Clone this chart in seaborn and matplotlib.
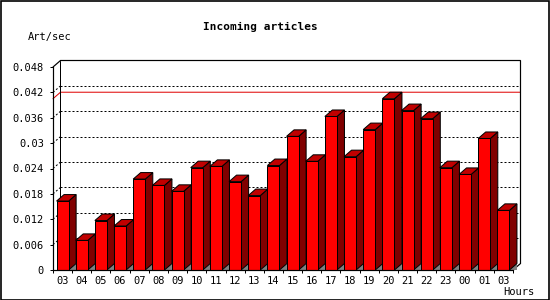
import numpy as np
import pandas as pd
import matplotlib
matplotlib.use("Agg")
import matplotlib.pyplot as plt
from matplotlib.patches import Polygon, Rectangle
import seaborn as sns

# ---- data ----
hours = ["03", "04", "05", "06", "07", "08", "09", "10", "11", "12", "13", "14",
         "15", "16", "17", "18", "19", "20", "21", "22", "23", "00", "01", "03"]
art_per_sec = [0.0163, 0.0070, 0.0117, 0.0104, 0.0215, 0.0200, 0.0186, 0.0242,
               0.0245, 0.0209, 0.0176, 0.0247, 0.0316, 0.0257, 0.0363, 0.0268,
               0.0332, 0.0405, 0.0377, 0.0358, 0.0242, 0.0226, 0.0311, 0.0141]
y_ticks = [0, 0.006, 0.012, 0.018, 0.024, 0.030, 0.036, 0.042, 0.048]
y_tick_labels = ["0", "0.006", "0.012", "0.018", "0.024", "0.03", "0.036", "0.042", "0.048"]
title = "Incoming articles"
y_label = "Art/sec"
x_label = "Hours"

sns.set_style("white")
plt.rcParams["font.family"] = ["DejaVu Sans Mono", "DejaVu Sans"]
plt.rcParams["text.color"] = "black"
plt.rcParams["xtick.color"] = "black"
plt.rcParams["ytick.color"] = "black"

W, H = 550, 300
fig = plt.figure(figsize=(W / 100, H / 100), dpi=100)
fig.patch.set_facecolor("white")
# axes = front plane of the 3D box
ax_l, ax_r, ax_b, ax_t = 53, 513, 270, 67
ax = fig.add_axes([ax_l / W, (H - ax_b) / H, (ax_r - ax_l) / W, (ax_b - ax_t) / H])
ax.set_facecolor("none")

df = pd.DataFrame({"pos": np.arange(len(hours)), "val": art_per_sec})
LW = 0.72  # 1 px
sns.barplot(data=df, x="pos", y="val", color="#ff0000", saturation=1,
            width=0.63, edgecolor="black", linewidth=LW, ax=ax, zorder=4)

n = len(hours)
ymax = y_ticks[-1]
ax.set_xlim(-0.5, n - 0.5)
ax.set_ylim(0, ymax)

# depth offset in data units
px_x = n / (ax_r - ax_l)
px_y = ymax / (ax_b - ax_t)
DX, DY = 7.5 * px_x, 6.5 * px_y

x0, x1 = -0.5, n - 0.5
# back wall gridlines (dotted) with diagonal connectors
for v in y_ticks[1:-1]:
    ax.plot([x0 + DX, x1 + DX], [v + DY, v + DY], color="black", lw=LW,
            ls=(0, (2, 2)), zorder=1, clip_on=False)
    ax.plot([x0, x0 + DX], [v, v + DY], color="black", lw=LW,
            ls=(0, (2, 2)), zorder=1, clip_on=False)

# peak line on back wall
peak = max(art_per_sec)
ax.plot([x0, x0 + DX, x1 + DX], [peak, peak + DY, peak + DY], color="#e00000",
        lw=LW, zorder=1.5, clip_on=False)

# back box frame
ax.plot([x0, x0 + DX, x1 + DX, x1 + DX, x1],
        [ymax, ymax + DY, ymax + DY, DY, 0], color="black", lw=LW * 1.2,
        zorder=1.6, clip_on=False, solid_joinstyle="miter")
ax.plot([x0 + DX, x0 + DX], [DY, ymax + DY], color="black", lw=LW,
        zorder=1.6, clip_on=False)

# 3D faces of bars derived from the seaborn bars
for p in list(ax.patches):
    xl = p.get_x()
    w = p.get_width()
    h = p.get_height()
    xr = xl + w
    side = Polygon([(xr, 0), (xr, h), (xr + DX, h + DY), (xr + DX, DY)],
                   closed=True, facecolor="#800000", edgecolor="black",
                   linewidth=LW, zorder=3, clip_on=False)
    top = Polygon([(xl, h), (xr, h), (xr + DX, h + DY), (xl + DX, h + DY)],
                  closed=True, facecolor="#c00000", edgecolor="black",
                  linewidth=LW, zorder=3, clip_on=False)
    shadow = Polygon([(xr, 0), (xr + DX, DY), (xr + DX, 0)], closed=True,
                     facecolor="#808080", edgecolor="none", zorder=2.5,
                     clip_on=False)
    ax.add_patch(shadow)
    ax.add_patch(side)
    ax.add_patch(top)

# axes / ticks
for s in ["top", "right"]:
    ax.spines[s].set_visible(False)
for s in ["left", "bottom"]:
    ax.spines[s].set_linewidth(LW * 1.2)
    ax.spines[s].set_color("black")
    ax.spines[s].set_zorder(5)

ax.set_yticks(y_ticks)
ax.set_yticklabels(y_tick_labels)
ax.set_xticks(np.arange(n))
ax.set_xticklabels(hours)
ax.set_xticks(np.arange(n + 1) - 0.5, minor=True)
ax.tick_params(axis="y", length=2.2, width=LW, color="black", pad=4.2,
               labelsize=7.5, left=True, direction="out", labelcolor="black")
ax.tick_params(axis="x", which="major", length=0, pad=4.5, labelsize=7.5,
               labelcolor="black")
ax.tick_params(axis="x", which="minor", length=2.2, width=LW, color="black",
               bottom=True, direction="out")
ax.set_xlabel("")
ax.set_ylabel("")
ax.grid(False)

fig.text(260 / W, 1 - 27 / H, title, ha="center", va="center",
         fontsize=8, fontweight="bold", color="black")
fig.text(28 / W, 1 - 37 / H, y_label, ha="left", va="center", fontsize=7.5,
         color="black")
fig.text(534 / W, 1 - 292 / H, x_label, ha="right", va="center", fontsize=7.5,
         color="black")

# outer border
fig.patches.append(Rectangle((0.5 / W, 0.5 / H), 1 - 1.5 / W, 1 - 1.5 / H,
                             transform=fig.transFigure, fill=False,
                             edgecolor="black", linewidth=1.2))

fig.savefig("out.png", dpi=100)
